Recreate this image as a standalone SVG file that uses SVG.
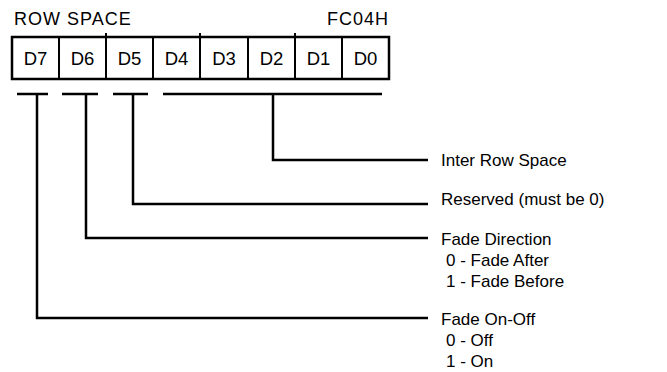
<svg xmlns="http://www.w3.org/2000/svg" width="667" height="372" viewBox="0 0 667 372">
<style>
text{font-family:"Liberation Sans",Arial,sans-serif;font-size:17px;fill:#000}
.c{text-anchor:middle;font-size:18.5px}
.h{font-size:18px;letter-spacing:1px}
.ln{stroke:#000;stroke-width:2.5;fill:none;stroke-linecap:butt}
.dv{stroke:#000;stroke-width:2;fill:none}
.lb{font-size:17px}
</style>
<rect width="667" height="372" fill="#fff"/>
<g id="title">
<text class="h" x="14" y="25">ROW SPACE</text>
<text class="h" x="389" y="25" text-anchor="end">FC04H</text>
</g>
<g id="register">
<rect x="12" y="37" width="377" height="42" class="ln"/>
<path class="dv" d="M59 37V79M106 33V79M153 37V79M200 33V79M248 37V79M295 33V79M342 37V79"/>
<text class="c" x="35.5" y="65">D7</text>
<text class="c" x="82.5" y="65">D6</text>
<text class="c" x="129.5" y="65">D5</text>
<text class="c" x="176.5" y="65">D4</text>
<text class="c" x="224" y="65">D3</text>
<text class="c" x="271.5" y="65">D2</text>
<text class="c" x="318.5" y="65">D1</text>
<text class="c" x="365.5" y="65">D0</text>
</g>
<g id="connectors">
<path class="ln" d="M17 94H48M62 94H98M113 94H148M163 94H382"/>
<path class="ln" d="M273 94V160H428"/>
<path class="ln" d="M133 94V204H428"/>
<path class="ln" d="M86 94V238H428"/>
<path class="ln" d="M37 94V318H428"/>
</g>
<g id="inter-row-space">
<text class="lb" x="441" y="166">Inter Row Space</text>
</g>
<g id="reserved">
<text class="lb" x="441" y="205">Reserved (must be 0)</text>
</g>
<g id="fade-direction">
<text class="lb" x="441" y="245">Fade Direction</text>
<text class="lb" x="446" y="266">0 - Fade After</text>
<text class="lb" x="446" y="287">1 - Fade Before</text>
</g>
<g id="fade-on-off">
<text class="lb" x="441" y="325">Fade On-Off</text>
<text class="lb" x="446" y="346">0 - Off</text>
<text class="lb" x="446" y="367">1 - On</text>
</g>
</svg>
